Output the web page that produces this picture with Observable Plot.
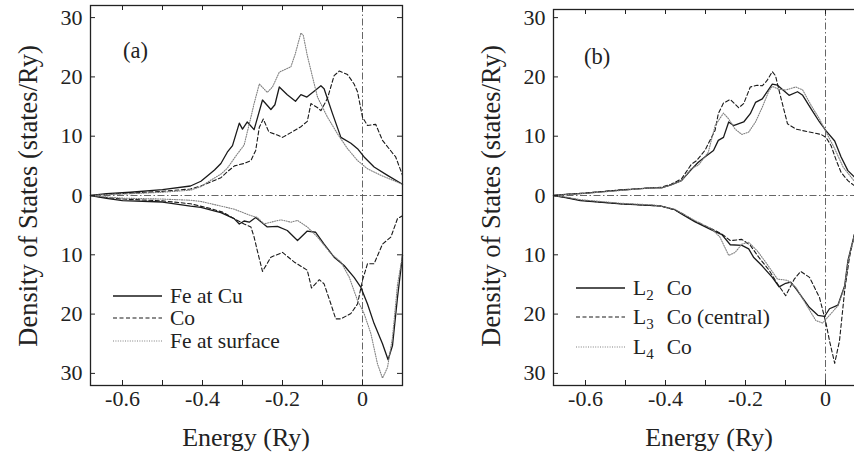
<!DOCTYPE html>
<html><head><meta charset="utf-8">
<script src="https://cdn.jsdelivr.net/npm/d3@7"></script>
<script src="https://cdn.jsdelivr.net/npm/@observablehq/plot@0.6"></script>
<style>
html,body{margin:0;padding:0;background:#fff;overflow:hidden;width:854px;height:457px}
#wrap{position:relative;width:854px;height:457px;overflow:hidden;background:#fff}
.panel{position:absolute;top:0}
</style></head><body><div id="wrap"></div>
<script>
const FONT = '"Liberation Serif", "DejaVu Serif", serif';
const xTicks = [-0.6, -0.5, -0.4, -0.3, -0.2, -0.1, 0];
const xLabels = [-0.6, -0.4, -0.2, 0];
const yTicks = [-30, -20, -10, 0, 10, 20, 30];
const xDomain = [-0.68, 0.1];

// Panel (a): energy [Ry], density of states (spin up positive, spin down negative)
const feCuUp = [[-0.68,0],[-0.64,0.3],[-0.58,0.55],[-0.5,1.0],[-0.43,1.6],[-0.404,2.4],[-0.388,3.3],[-0.37,4.3],[-0.354,5.4],[-0.338,7.3],[-0.325,8.4],[-0.308,12.2],[-0.3,11.2],[-0.288,12.4],[-0.271,11.1],[-0.25,16.1],[-0.229,14.5],[-0.219,15.3],[-0.208,18.3],[-0.188,17.0],[-0.1675,15.9],[-0.154,17.0],[-0.139,16.6],[-0.117,17.8],[-0.104,18.5],[-0.096,18.0],[-0.075,13.8],[-0.054,9.8],[-0.029,8.8],[-0.0125,7.9],[0.004,6.5],[0.029,4.8],[0.0625,3.4],[0.1,1.9]];
const coUp = [[-0.68,0],[-0.64,0.2],[-0.58,0.4],[-0.5,0.7],[-0.43,1.1],[-0.404,1.6],[-0.372,2.5],[-0.354,3.0],[-0.338,4.0],[-0.32,5.0],[-0.296,5.4],[-0.279,5.9],[-0.267,7.6],[-0.258,11.5],[-0.248,12.9],[-0.234,10.7],[-0.213,10.2],[-0.2,9.8],[-0.179,10.6],[-0.154,11.6],[-0.138,12.5],[-0.129,15.5],[-0.112,14.8],[-0.104,14.3],[-0.0875,16.4],[-0.071,20.2],[-0.058,21.0],[-0.0375,20.4],[-0.021,18.8],[-0.0125,17.5],[0.0,13.2],[0.0125,11.8],[0.033,12.0],[0.05,9.3],[0.071,7.5],[0.083,6.5],[0.1,3.4]];
const feSurfUp = [[-0.68,0],[-0.64,0.15],[-0.58,0.3],[-0.5,0.55],[-0.43,0.9],[-0.404,1.5],[-0.379,2.6],[-0.354,3.6],[-0.338,4.6],[-0.313,7.0],[-0.296,8.5],[-0.279,13.2],[-0.271,15.5],[-0.258,18.8],[-0.238,17.4],[-0.225,18.3],[-0.208,20.8],[-0.179,21.7],[-0.168,23.9],[-0.154,27.4],[-0.148,27.0],[-0.138,23.6],[-0.125,20.0],[-0.1125,16.6],[-0.0875,13.2],[-0.0625,10.4],[-0.0375,7.9],[-0.0125,5.9],[0.0125,4.5],[0.046,3.4],[0.1,1.9]];
const feCuDn = [[-0.68,0],[-0.64,-0.5],[-0.6,-0.85],[-0.5,-1.1],[-0.43,-1.8],[-0.404,-2.0],[-0.371,-2.6],[-0.354,-2.9],[-0.321,-3.9],[-0.308,-4.8],[-0.296,-4.3],[-0.283,-4.5],[-0.267,-3.7],[-0.238,-5.3],[-0.2125,-5.2],[-0.188,-5.9],[-0.1625,-7.6],[-0.138,-6.0],[-0.117,-6.2],[-0.096,-8.2],[-0.071,-10.4],[-0.046,-11.8],[-0.021,-13.8],[-0.004,-15.5],[0.0125,-18.3],[0.029,-21.6],[0.05,-25.0],[0.064,-27.7],[0.075,-25.3],[0.0875,-17.2],[0.1,-10.1]];
const coDn = [[-0.68,0],[-0.64,-0.35],[-0.6,-0.6],[-0.5,-0.9],[-0.43,-1.4],[-0.38,-2.2],[-0.35,-2.8],[-0.321,-3.9],[-0.296,-4.8],[-0.279,-5.3],[-0.271,-7.0],[-0.263,-9.3],[-0.25,-12.8],[-0.229,-10.4],[-0.2,-9.6],[-0.171,-11.2],[-0.138,-12.6],[-0.1275,-15.6],[-0.108,-14.2],[-0.096,-14.9],[-0.079,-18.3],[-0.067,-20.8],[-0.054,-20.8],[-0.029,-19.9],[-0.0125,-18.3],[0.0,-14.3],[0.0125,-11.5],[0.029,-11.5],[0.05,-8.2],[0.071,-7.0],[0.0875,-3.9],[0.1,-3.4]];
const feSurfDn = [[-0.68,0],[-0.64,-0.25],[-0.6,-0.45],[-0.5,-0.6],[-0.43,-0.8],[-0.404,-1.0],[-0.321,-2.3],[-0.279,-3.4],[-0.263,-3.7],[-0.246,-4.8],[-0.229,-4.5],[-0.204,-4.1],[-0.179,-4.5],[-0.1625,-4.2],[-0.138,-5.3],[-0.1125,-7.0],[-0.079,-9.8],[-0.054,-11.2],[-0.033,-13.8],[-0.0125,-17.7],[0.004,-19.9],[0.021,-23.3],[0.0375,-28.4],[0.05,-30.8],[0.0625,-29.0],[0.075,-23.9],[0.0875,-15.0],[0.1,-10.1]];

// Panel (b)
const l2Up = [[-0.68,0],[-0.65,0.2],[-0.6045,0.35],[-0.52,0.85],[-0.436,1.3],[-0.41,1.3],[-0.386,1.8],[-0.36,2.5],[-0.335,4.4],[-0.318,5.6],[-0.3015,6.5],[-0.28,7.6],[-0.268,9.3],[-0.255,9.8],[-0.242,12.4],[-0.23,11.8],[-0.2045,12.4],[-0.188,13.8],[-0.175,15.7],[-0.158,16.3],[-0.15,17.1],[-0.133,18.8],[-0.12,18.6],[-0.091,16.9],[-0.07,17.5],[-0.057,16.9],[-0.036,14.6],[-0.015,12.4],[0.0015,10.9],[0.023,9.2],[0.039,6.5],[0.056,4.2],[0.077,2.8],[0.1,2.0]];
const l3Up = [[-0.68,0],[-0.65,0.2],[-0.6045,0.4],[-0.52,0.9],[-0.436,1.3],[-0.41,1.4],[-0.386,1.9],[-0.36,2.8],[-0.335,5.3],[-0.322,5.9],[-0.3015,7.6],[-0.285,9.8],[-0.276,11.0],[-0.268,13.8],[-0.255,15.6],[-0.238,16.2],[-0.217,14.8],[-0.2045,15.5],[-0.188,18.3],[-0.171,18.6],[-0.158,18.5],[-0.146,19.4],[-0.133,20.9],[-0.125,20.2],[-0.112,16.6],[-0.095,12.1],[-0.074,11.2],[-0.04,10.7],[-0.011,10.3],[0.0015,9.8],[0.014,8.4],[0.027,5.9],[0.039,3.9],[0.056,2.5],[0.077,1.4],[0.1,0.8]];
const l4Up = [[-0.68,0],[-0.65,0.15],[-0.6045,0.35],[-0.52,0.8],[-0.436,1.3],[-0.41,1.3],[-0.386,1.8],[-0.36,2.5],[-0.335,4.6],[-0.318,5.1],[-0.293,7.3],[-0.276,11.8],[-0.255,13.9],[-0.242,12.9],[-0.226,11.2],[-0.209,10.3],[-0.192,10.7],[-0.175,12.4],[-0.158,14.9],[-0.141,17.7],[-0.133,18.4],[-0.116,17.9],[-0.0995,17.8],[-0.074,18.3],[-0.057,17.8],[-0.036,15.2],[-0.015,12.9],[0.0015,10.7],[0.023,7.9],[0.044,4.8],[0.077,2.0],[0.1,1.4]];
const l2Dn = [[-0.68,0],[-0.65,-0.35],[-0.613,-0.85],[-0.512,-1.4],[-0.428,-1.7],[-0.411,-1.8],[-0.377,-2.4],[-0.36,-3.1],[-0.327,-4.4],[-0.285,-5.8],[-0.259,-6.6],[-0.238,-8.3],[-0.209,-8.4],[-0.192,-9.0],[-0.18,-10.4],[-0.158,-11.9],[-0.133,-13.8],[-0.116,-15.4],[-0.0995,-14.8],[-0.087,-14.6],[-0.074,-15.7],[-0.04,-18.9],[-0.019,-20.2],[-0.0025,-20.4],[0.01,-19.1],[0.031,-18.5],[0.048,-15.2],[0.056,-11.0],[0.077,-5.3],[0.1,-3.0]];
const l3Dn = [[-0.68,0],[-0.65,-0.3],[-0.613,-0.8],[-0.512,-1.4],[-0.428,-1.7],[-0.411,-1.8],[-0.377,-2.4],[-0.36,-3.0],[-0.327,-4.3],[-0.285,-5.6],[-0.259,-6.5],[-0.238,-7.6],[-0.209,-7.4],[-0.188,-8.4],[-0.167,-10.4],[-0.141,-12.6],[-0.12,-14.9],[-0.0995,-16.9],[-0.078,-14.1],[-0.062,-12.8],[-0.04,-13.8],[-0.015,-17.2],[0.0015,-21.6],[0.01,-24.5],[0.023,-28.3],[0.035,-24.5],[0.048,-16.0],[0.06,-10.4],[0.077,-5.1],[0.1,-2.5]];
const l4Dn = [[-0.68,0],[-0.65,-0.25],[-0.613,-0.7],[-0.512,-1.3],[-0.428,-1.6],[-0.377,-2.3],[-0.327,-4.2],[-0.285,-5.6],[-0.264,-7.0],[-0.242,-10.1],[-0.226,-9.6],[-0.209,-8.2],[-0.192,-7.9],[-0.171,-9.3],[-0.15,-11.2],[-0.12,-14.1],[-0.095,-14.3],[-0.074,-15.5],[-0.049,-18.3],[-0.024,-21.1],[-0.007,-21.5],[0.006,-20.5],[0.031,-18.6],[0.048,-15.4],[0.056,-11.2],[0.077,-5.4],[0.1,-3.0]];

const legendA = ["Fe at Cu", "Co", "Fe at surface"];
const legendB = [["2", "Co"], ["3", "Co (central)"], ["4", "Co"]];

const STY = [
  {stroke: "#1a1a1a", strokeWidth: 1.3},
  {stroke: "#1a1a1a", strokeWidth: 1.1, strokeDasharray: "4,2.5"},
  {stroke: "#808080", strokeWidth: 1.1, strokeDasharray: "1,1.4"}
];

function makePanel(opts) {
  const {series, yDomain, marginTop, tag, tagX, tagY, legendYs, legendFn} = opts;
  const W = 427, H = 457, mL = 90, mR = 25, mB = 72;
  const pxPerY = (H - mB - marginTop) / (yDomain[1] - yDomain[0]);
  const pxPerX = (W - mL - mR) / (xDomain[1] - xDomain[0]);
  const tY = 5 / pxPerY, tX = 5 / pxPerX;
  const marks = [];
  marks.push(Plot.ruleY([0], {stroke: "#555", strokeWidth: 0.9, strokeDasharray: "7,2.5,1.5,2.5"}));
  marks.push(Plot.ruleX([0], {stroke: "#555", strokeWidth: 0.9, strokeDasharray: "7,2.5,1.5,2.5"}));
  series.forEach(([up, dn], i) => {
    marks.push(Plot.line(up, {x: d => d[0], y: d => d[1], ...STY[i]}));
    marks.push(Plot.line(dn, {x: d => d[0], y: d => d[1], ...STY[i]}));
  });
  // inward ticks on all four sides
  marks.push(Plot.ruleX(xTicks, {x: d => d, y1: yDomain[0], y2: yDomain[0] + tY, stroke: "#222", strokeWidth: 1}));
  marks.push(Plot.ruleX(xTicks, {x: d => d, y1: yDomain[1] - tY, y2: yDomain[1], stroke: "#222", strokeWidth: 1}));
  marks.push(Plot.ruleY(yTicks, {y: d => d, x1: xDomain[0], x2: xDomain[0] + tX, stroke: "#222", strokeWidth: 1}));
  marks.push(Plot.ruleY(yTicks, {y: d => d, x1: xDomain[1] - tX, x2: xDomain[1], stroke: "#222", strokeWidth: 1}));
  marks.push(Plot.axisX(xLabels, {anchor: "bottom", tickSize: 0, tickPadding: 5, fontSize: 22, fontFamily: FONT, label: null, tickFormat: d => d === 0 ? "0" : String(d)}));
  marks.push(Plot.axisY(yTicks, {anchor: "left", tickSize: 0, tickPadding: 8, fontSize: 22, fontFamily: FONT, label: null, tickFormat: d => String(Math.abs(d))}));
  marks.push(Plot.frame({stroke: "#222", strokeWidth: 1.3}));
  const svg = Plot.plot({
    width: W, height: H, marginLeft: mL, marginRight: mR, marginTop, marginBottom: mB,
    x: {domain: xDomain}, y: {domain: yDomain},
    style: {fontFamily: FONT, color: "#222", background: "transparent", overflow: "visible"},
    marks
  });
  const s = d3.select(svg);
  s.append("text").attr("transform", "translate(28,196) rotate(-90)").attr("text-anchor", "middle")
    .attr("dy", "0.35em").attr("font-size", 26.5).attr("fill", "#222").attr("font-family", FONT)
    .text("Density of States (states/Ry)");
  s.append("text").attr("x", 246).attr("y", 446).attr("text-anchor", "middle")
    .attr("font-size", 26).attr("fill", "#222").attr("font-family", FONT).text("Energy (Ry)");
  s.append("text").attr("x", tagX).attr("y", tagY).attr("text-anchor", "start").attr("font-size", 22.5).attr("fill", "#222")
    .attr("font-family", FONT).text(tag);
  legendYs.forEach((ly, i) => {
    const st = STY[i];
    s.append("line").attr("x1", 113).attr("x2", 162).attr("y1", ly).attr("y2", ly)
      .attr("stroke", st.stroke).attr("stroke-width", st.strokeWidth)
      .attr("stroke-dasharray", st.strokeDasharray || null);
    legendFn(s.append("text").attr("x", 170).attr("y", ly + 7).attr("text-anchor", "start").attr("font-size", 21.5)
      .attr("fill", "#222").attr("font-family", FONT), i);
  });
  return svg;
}

const wrap = document.getElementById("wrap");
const a = makePanel({
  series: [[feCuUp, feCuDn], [coUp, coDn], [feSurfUp, feSurfDn]],
  yDomain: [-32.04, 32.04], marginTop: 5, tag: "(a)", tagX: 123, tagY: 58,
  legendYs: [296, 318, 341],
  legendFn: (t, i) => t.text(legendA[i])
});
a.classList.add("panel"); a.style.left = "0px";
wrap.appendChild(a);
const b = makePanel({
  series: [[l2Up, l2Dn], [l3Up, l3Dn], [l4Up, l4Dn]],
  yDomain: [-32.04, 31.37], marginTop: 9, tag: "(b)", tagX: 121, tagY: 64,
  legendYs: [288, 317, 347],
  legendFn: (t, i) => {
    t.append("tspan").text("L");
    t.append("tspan").attr("dy", 5).attr("font-size", 15).text(legendB[i][0]);
    t.append("tspan").attr("dy", -5).attr("dx", 13).text(legendB[i][1]);
  }
});
b.classList.add("panel"); b.style.left = "463px";
wrap.appendChild(b);
</script></body></html>
